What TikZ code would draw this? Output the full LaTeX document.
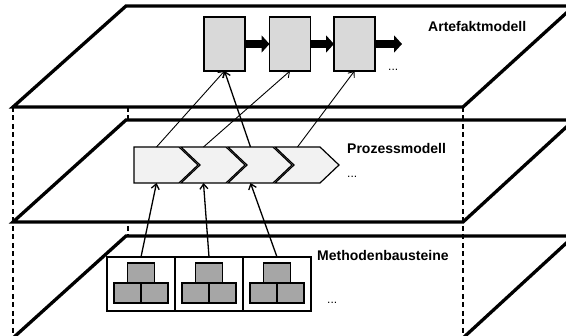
\documentclass[tikz,border=0pt]{standalone}
\usepackage{fontspec}
\setmainfont{Liberation Sans}
\usetikzlibrary{arrows.meta}
\tikzset{
  ebene/.style={fill=white, line width=3.3pt, line join=miter},
  kante/.style={line width=2pt, dash pattern=on 5pt off 3.5pt},
  artefakt/.style={draw, line width=1.8pt, fill=black!15, minimum width=41pt, minimum height=54pt, inner sep=0pt, outer sep=0pt},
  prozess/.style={minimum width=45pt, minimum height=36pt, inner sep=0pt, outer sep=0pt},
  chevron/.style={draw, line width=1.2pt, fill=black!5, line join=miter},
  baustein/.style={draw, line width=1.4pt, fill=white, minimum width=68pt, minimum height=54pt, inner sep=0pt, outer sep=0pt},
  block/.style={draw, line width=1.4pt, fill=black!35},
  titel/.style={anchor=base west, inner sep=0pt, font=\fontsize{14}{16}\selectfont\bfseries},
  punkte/.style={anchor=base west, inner sep=0pt, font=\fontsize{12}{14}\selectfont},
  pfeil/.style={->, line width=1.3pt},
  duenn/.style={->, line width=0.9pt},
  fluss/.style={line width=8pt, -{Triangle[length=8pt,width=17pt]}}
}
\begin{document}
\begin{tikzpicture}[x=1pt, y=-1pt, >={Straight Barb[length=5pt,width=8pt]}]
\useasboundingbox (0,0) rectangle (566,336);
% hintere Kante
\draw[kante] (128,107) -- (128,336);
% Ebenen
\draw[ebene] (126,6) -- (574,6) -- (463,107) -- (13,107) -- cycle;
\draw[ebene] (126,120) -- (574,120) -- (463,222) -- (13,222) -- cycle;
\draw[ebene] (126,236) -- (574,236) -- (463,338) -- (13,338) -- cycle;
% vordere Kanten
\draw[kante] (13,107) -- (13,336);
\draw[kante] (463,107) -- (463,336);
% Artefaktmodell
\foreach \i/\x in {1/224.5, 2/290, 3/354.5}
  \node[artefakt] (a\i) at (\x,44) {};
\coordinate (aende) at (402,44);
\draw[fluss] (a1) -- (a2);
\draw[fluss] (a2) -- (a3);
\draw[fluss] (a3) -- (aende);
\node[titel] (t1) at (428,32) {Artefaktmodell};
\node[punkte] (d1) at (388,71) {...};
% Prozessmodell
\foreach \i in {1,...,4}
  \node[prozess] (p\i) at (109.5+47*\i,165) {};
\draw[chevron] (p1.north west) -- (p1.north east) -- ++(19,18) -- (p1.south east) -- (p1.south west) -- cycle;
\foreach \i in {2,3,4}
  \draw[chevron] (p\i.north west) -- (p\i.north east) -- ++(19,18) -- (p\i.south east) -- (p\i.south west) -- ++(19,-18) -- cycle;
\node[titel] (t2) at (347,154) {Prozessmodell};
\node[punkte] (d2) at (347,178) {...};
% Methodenbausteine
\foreach \i in {1,2,3} {
  \node[baustein] (m\i) at (73+68*\i,284) {};
  \draw[block] (59.5+68*\i,263) rectangle ++(27,20);
  \draw[block] (46+68*\i,283) rectangle ++(27,20);
  \draw[block] (73+68*\i,283) rectangle ++(27,20);
}
\node[titel] (t3) at (317,261) {Methodenbausteine};
\node[punkte] (d3) at (327,304) {...};
% Pfeile
\foreach \i in {1,2,3}
  \draw[pfeil] (m\i.north) -- (p\i.south);
\draw[duenn] (p1.north) -- (a1.south);
\draw[duenn] (p2.north) -- (a2.south);
\draw[pfeil] (p3.north) -- (a1.south);
\draw[duenn] (p4.north) -- (a3.south);
\end{tikzpicture}
\end{document}
